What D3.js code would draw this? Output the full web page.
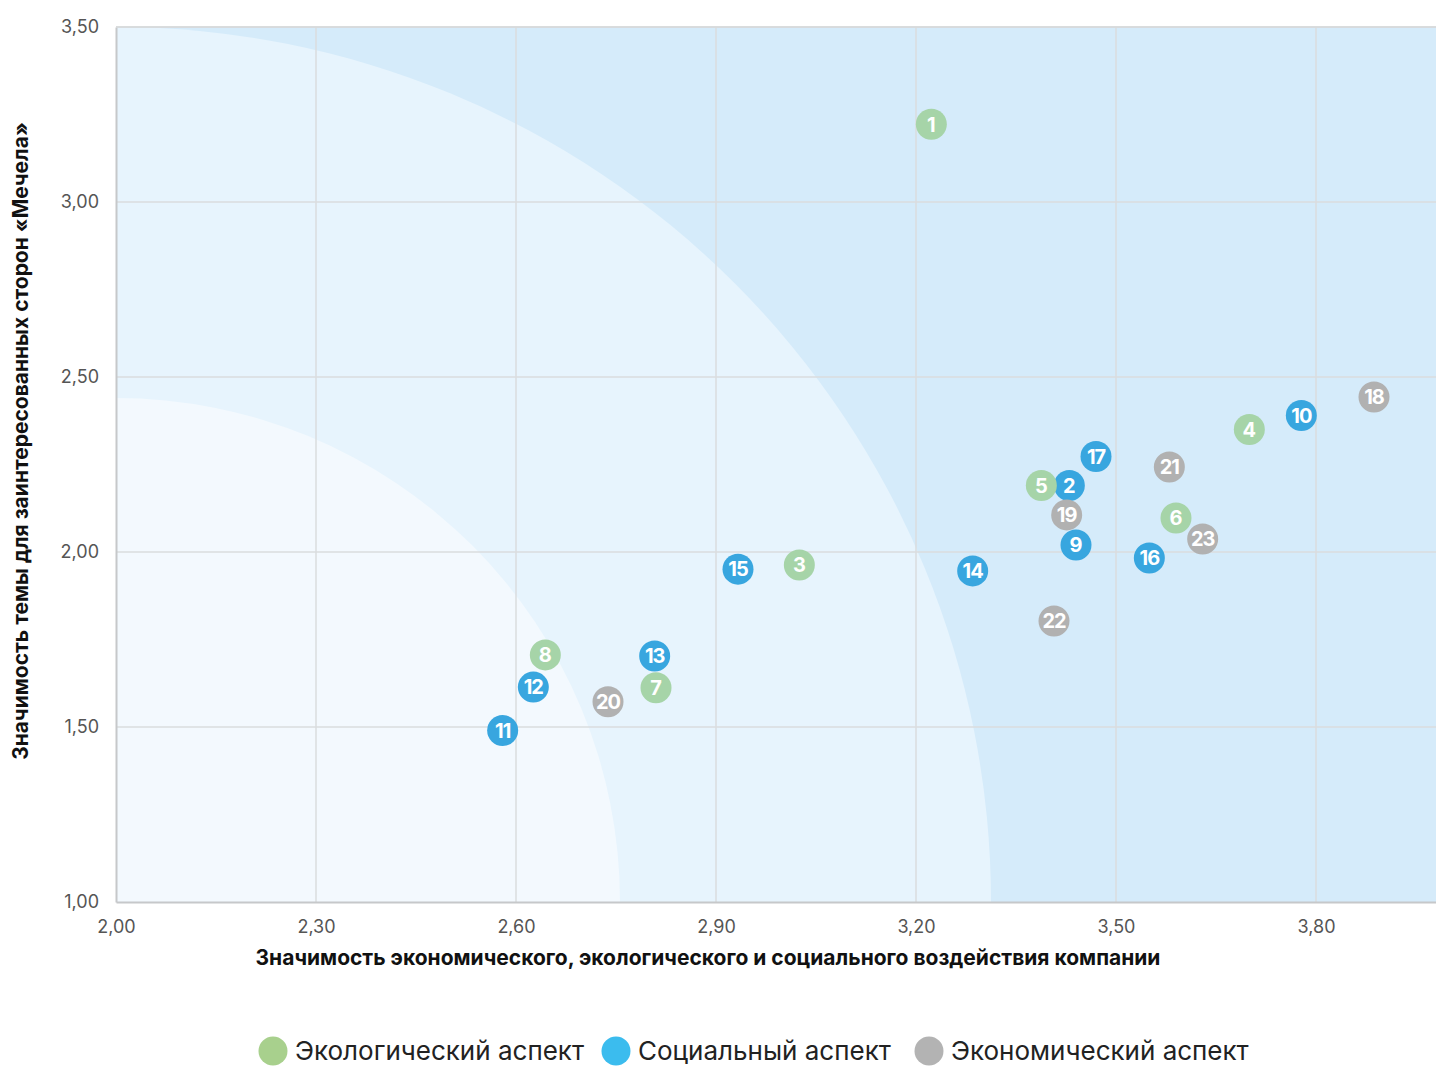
<!DOCTYPE html>
<html>
<head>
<meta charset="utf-8">
<script src="https://cdn.jsdelivr.net/npm/d3@7"></script>
<style>
  html, body { margin: 0; padding: 0; background: #fff; }
  svg { display: block; font-family: Inter, "Noto Sans", sans-serif; }
</style>
</head>
<body>
<svg id="chart" width="1436" height="1066"></svg>
<script>
// Materiality matrix: topic numbers, impact significance (x), stakeholder significance (y)
const topicIds = [1, 2, 3, 4, 5, 6, 7, 8, 9, 10, 11, 12, 13, 14, 15, 16, 17, 18, 19, 20, 21, 22, 23];
const impactValues = [3.223, 3.43, 3.025, 3.70, 3.388, 3.59, 2.81, 2.644, 3.44, 3.778, 2.58, 2.626, 2.808, 3.285, 2.933, 3.55, 3.47, 3.887, 3.426, 2.738, 3.58, 3.407, 3.63];
const stakeholderValues = [3.222, 2.19, 1.963, 2.35, 2.19, 2.097, 1.612, 1.706, 2.02, 2.39, 1.49, 1.614, 1.703, 1.946, 1.951, 1.983, 2.273, 2.443, 2.106, 1.572, 2.243, 1.803, 2.037];
const topicAspects = ["env", "soc", "env", "env", "env", "env", "env", "env", "soc", "soc", "soc", "soc", "soc", "soc", "soc", "soc", "soc", "eco", "eco", "eco", "eco", "eco", "eco"];

const aspectKeys = ["env", "soc", "eco"];
const aspectNames = ["Экологический аспект", "Социальный аспект", "Экономический аспект"];
const aspectColors = ["#a6d4a8", "#38a6df", "#b1b1b1"];
const legendColors = ["#a8d08d", "#3bbcee", "#b3b3b3"];

const xTicks = [2.00, 2.30, 2.60, 2.90, 3.20, 3.50, 3.80];
const yTicks = [1.00, 1.50, 2.00, 2.50, 3.00, 3.50];
const xDomain = [2.00, 3.98];
const yDomain = [1.00, 3.50];

// Importance zones, as fractions of the y range measured from the origin
const zoneFractions = [1.0, 0.576];
const zoneColors = ["#d5ebfa", "#e7f4fd", "#f3f9fe"];

const xTitle = "Значимость экономического, экологического и социального воздействия компании";
const yTitle = "Значимость темы для заинтересованных сторон «Мечела»";

const svg = d3.select("#chart");
const margin = { left: 116, top: 27, right: 0, bottom: 164 };
const W = 1436, H = 1066;
const x = d3.scaleLinear().domain(xDomain).range([margin.left, W - margin.right]);
const y = d3.scaleLinear().domain(yDomain).range([H - margin.bottom, margin.top]);

const plotW = x.range()[1] - x.range()[0];
const plotH = y.range()[0] - y.range()[1];

const clip = svg.append("defs").append("clipPath").attr("id", "plotClip");
clip.append("rect").attr("x", x.range()[0]).attr("y", y.range()[1]).attr("width", plotW).attr("height", plotH);

const bg = svg.append("g").attr("clip-path", "url(#plotClip)");
bg.append("rect").attr("x", x.range()[0]).attr("y", y.range()[1]).attr("width", plotW).attr("height", plotH).attr("fill", zoneColors[0]);
zoneFractions.forEach((f, i) => {
  bg.append("circle")
    .attr("cx", x(xDomain[0]))
    .attr("cy", y(yDomain[0]))
    .attr("r", plotH * f)
    .attr("fill", zoneColors[i + 1]);
});

// Grid
const grid = svg.append("g");
grid.selectAll("line.vx").data(xTicks.slice(1)).join("line")
  .attr("x1", d => x(d)).attr("x2", d => x(d))
  .attr("y1", y.range()[1]).attr("y2", y.range()[0])
  .attr("stroke", "#dadcde").attr("stroke-width", 1.5);
grid.selectAll("line.hy").data(yTicks.slice(1)).join("line")
  .attr("x1", x.range()[0]).attr("x2", x.range()[1])
  .attr("y1", d => y(d)).attr("y2", d => y(d))
  .attr("stroke", "#dadcde").attr("stroke-width", 1.5);

// Axes
const fmt = d => d3.format(".2f")(d).replace(".", ",");
const xAxis = svg.append("g").attr("transform", `translate(0,${y.range()[0]})`)
  .call(d3.axisBottom(x).tickValues(xTicks).tickSize(0).tickPadding(18).tickFormat(fmt));
const yAxis = svg.append("g").attr("transform", `translate(${x.range()[0]},0)`)
  .call(d3.axisLeft(y).tickValues(yTicks).tickSize(0).tickPadding(17).tickFormat(fmt));
[xAxis, yAxis].forEach(a => {
  a.select(".domain").attr("stroke", "#c6c8ca").attr("stroke-width", 2);
  a.selectAll("text").attr("fill", "#555").attr("font-size", 18).attr("font-family", "Inter, 'Noto Sans', sans-serif");
});
yAxis.selectAll(".tick text").attr("dy", "0.3em");

// Top border
svg.append("line")
  .attr("x1", x.range()[0]).attr("x2", x.range()[1])
  .attr("y1", y.range()[1]).attr("y2", y.range()[1])
  .attr("stroke", "#d6d8da").attr("stroke-width", 1.5);

// Axis titles
svg.append("text")
  .attr("x", 708).attr("y", 965)
  .attr("text-anchor", "middle").attr("font-size", 21).attr("font-weight", 700).attr("fill", "#111")
  .text(xTitle);
svg.append("text")
  .attr("transform", `translate(28,441) rotate(-90)`)
  .attr("text-anchor", "middle").attr("font-size", 21).attr("font-weight", 700).attr("fill", "#111")
  .text(yTitle);

// Points
const points = topicIds.map((id, i) => ({
  id, x: impactValues[i], y: stakeholderValues[i], aspect: topicAspects[i]
}));
const color = d3.scaleOrdinal().domain(aspectKeys).range(aspectColors);

const pts = svg.append("g").selectAll("g").data(points).join("g")
  .attr("transform", d => `translate(${x(d.x)},${y(d.y)})`);
pts.append("circle").attr("r", 15.5).attr("fill", d => color(d.aspect));
pts.append("text")
  .attr("text-anchor", "middle").attr("dy", "0.36em")
  .attr("font-size", 20).attr("font-weight", 700).attr("fill", "#fff")
  .attr("letter-spacing", d => d.id >= 10 ? -1 : 0)
  .text(d => d.id);

// Legend
const legendX = [273, 616, 929];
const leg = svg.append("g").selectAll("g").data(aspectKeys).join("g")
  .attr("transform", (d, i) => `translate(${legendX[i]},1051)`);
leg.append("circle").attr("r", 14.5).attr("fill", (d, i) => legendColors[i]);
leg.append("text").attr("x", 22).attr("dy", "0.36em")
  .attr("font-size", 26).attr("fill", "#222")
  .text((d, i) => aspectNames[i]);
</script>
</body>
</html>
